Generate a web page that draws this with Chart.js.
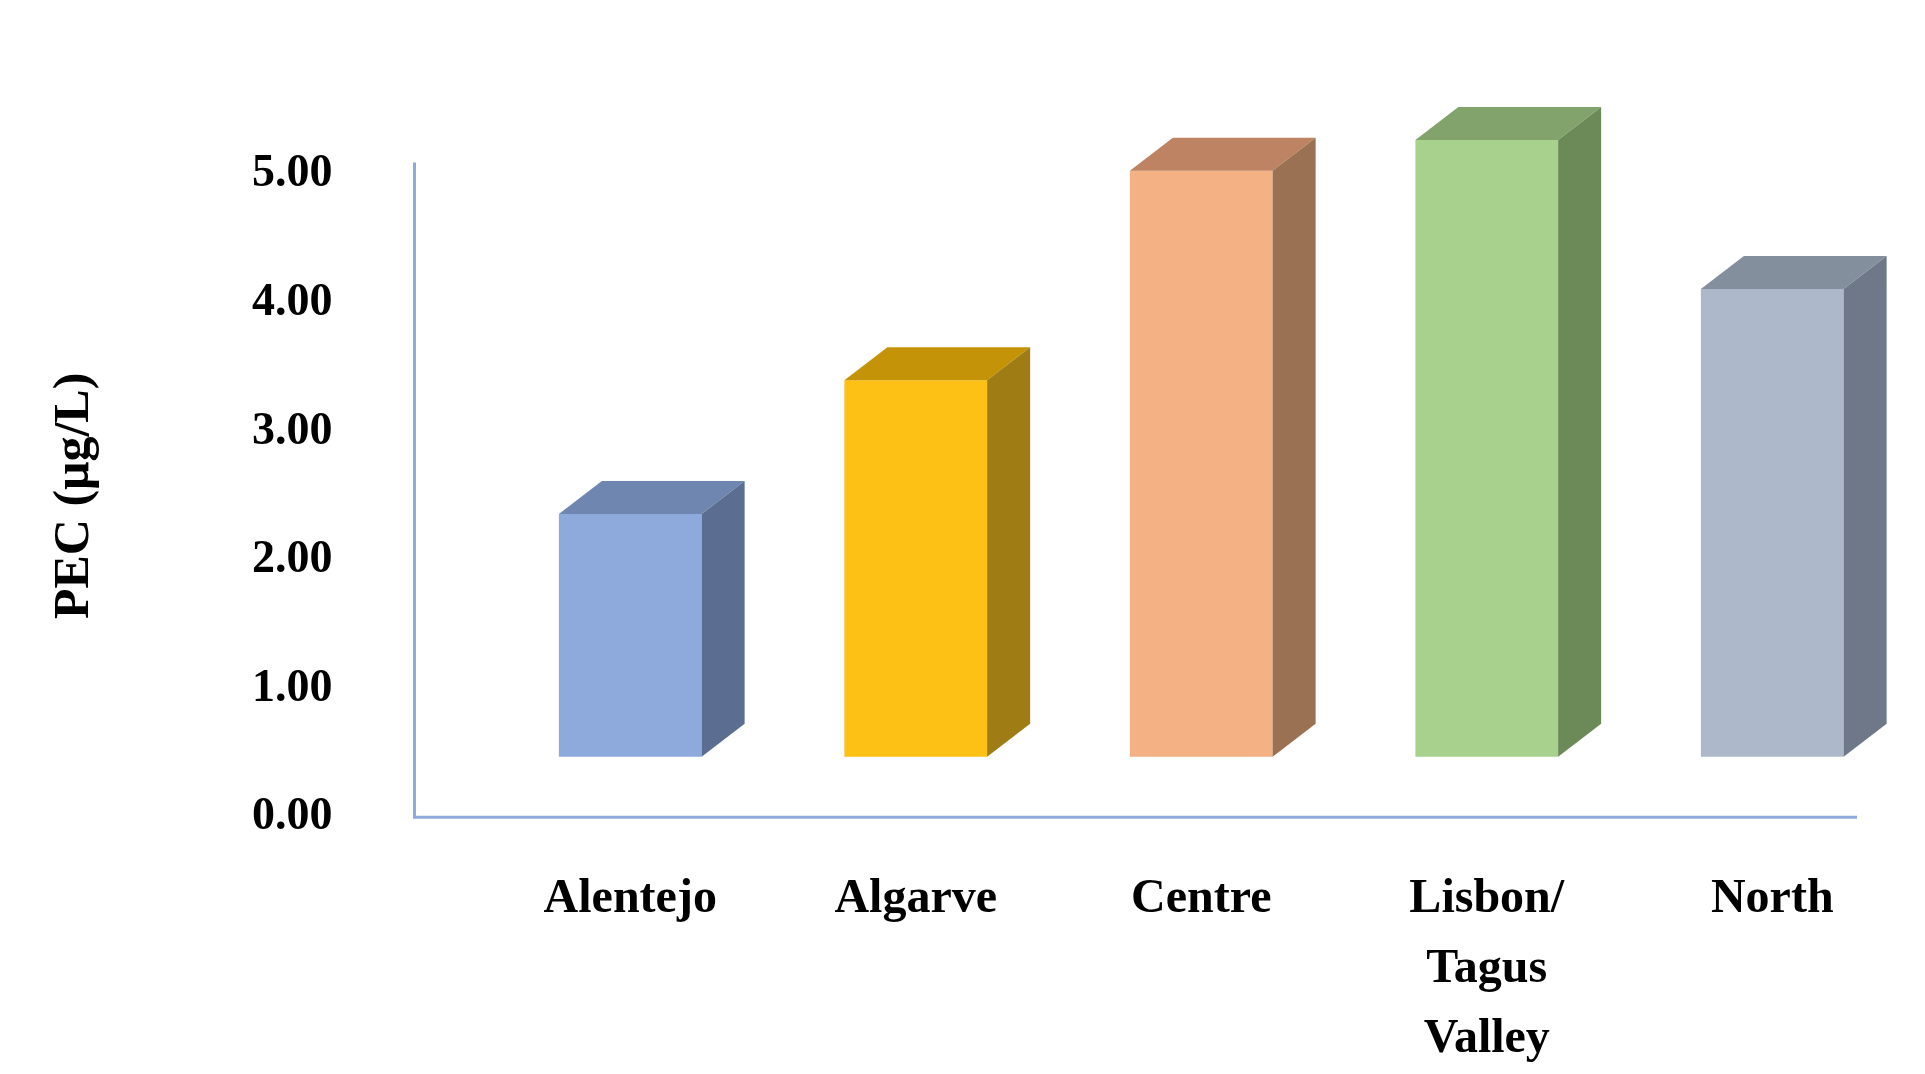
<!DOCTYPE html>
<html>
<head>
<meta charset="utf-8">
<script src="https://cdn.jsdelivr.net/npm/chart.js@4"></script>
<style>
  html, body { margin: 0; padding: 0; background: #fff; }
  #wrap { width: 1925px; height: 1074px; }
</style>
</head>
<body>
<div id="wrap"><canvas id="chart"></canvas></div>
<script>
(function () {
  'use strict';

  // Data
  const categories = ['Alentejo', 'Algarve', 'Centre', ['Lisbon/', 'Tagus', 'Valley'], 'North'];
  const pecValues = [2.36, 3.40, 5.03, 5.27, 4.11];
  const yTicks = [0, 1, 2, 3, 4, 5];

  // front / top / side shades for each bar
  const frontColors = ['#8eaadc', '#fdc115', '#f4b183', '#a9d18e', '#adb9ca'];
  const topColors = ['#6e86b0', '#c49307', '#bd8362', '#82a46c', '#848f9e'];
  const sideColors = ['#5b6d90', '#a07c14', '#9a7152', '#6b8a58', '#6f7888'];

  const FONT = 'Liberation Serif';
  const AXIS_COLOR = '#8faadc';
  const DEPTH_X = 43, DEPTH_Y = 33;

  // ── 3D faces + axis lines ──
  const boxPlugin = {
    id: 'box3d',
    afterDatasetsDraw: function (chart) {
      const ctx = chart.ctx;
      const meta = chart.getDatasetMeta(0);
      meta.data.forEach(function (bar, i) {
        const half = bar.width / 2;
        const l = bar.x - half, r = bar.x + half, t = bar.y, b = bar.base;
        ctx.save();
        ctx.fillStyle = topColors[i];
        ctx.beginPath();
        ctx.moveTo(l, t);
        ctx.lineTo(l + DEPTH_X, t - DEPTH_Y);
        ctx.lineTo(r + DEPTH_X, t - DEPTH_Y);
        ctx.lineTo(r, t);
        ctx.closePath();
        ctx.fill();
        ctx.fillStyle = sideColors[i];
        ctx.beginPath();
        ctx.moveTo(r, t);
        ctx.lineTo(r + DEPTH_X, t - DEPTH_Y);
        ctx.lineTo(r + DEPTH_X, b - DEPTH_Y);
        ctx.lineTo(r, b);
        ctx.closePath();
        ctx.fill();
        ctx.restore();
      });

      // axis lines sit left of / below the bars like the reference
      const y = chart.scales.y;
      const x0 = chart.chartArea.left - 73;
      const y0 = y.getPixelForValue(0);
      ctx.save();
      ctx.strokeStyle = AXIS_COLOR;
      ctx.lineWidth = 3;
      ctx.beginPath();
      ctx.moveTo(x0, y.getPixelForValue(5) - 12);
      ctx.lineTo(x0, y0);
      ctx.lineTo(chart.chartArea.right - 58, y0);
      ctx.stroke();
      ctx.restore();
    }
  };

  const ctx = document.getElementById('chart');

  new Chart(ctx, {
    type: 'bar',
    data: {
      labels: categories,
      datasets: [{
        data: pecValues,
        base: 0.47,
        clip: false,
        backgroundColor: frontColors,
        borderWidth: 0,
        barPercentage: 0.5,
        categoryPercentage: 1.0
      }]
    },
    options: {
      responsive: true,
      maintainAspectRatio: false,
      animation: false,
      layout: { padding: { left: 40, right: 10, top: 49, bottom: -40 } },
      plugins: {
        legend: { display: false },
        tooltip: { enabled: false }
      },
      scales: {
        x: {
          border: { display: false },
          grid: { display: false },
          ticks: {
            autoSkip: false,
            maxRotation: 0,
            padding: 40,
            color: '#000',
            font: { family: FONT, size: 48, weight: 'bold', lineHeight: 1.45 }
          }
        },
        y: {
          min: 0,
          max: 5,
          border: { display: false },
          grid: { display: false },
          afterBuildTicks: function (axis) {
            axis.ticks = yTicks.map(function (v) { return { value: v }; });
          },
          ticks: {
            padding: 147,
            color: '#000',
            font: { family: FONT, size: 46, weight: 'bold' },
            callback: function (v) { return Number(v).toFixed(2); }
          },
          title: {
            display: true,
            text: 'PEC (μg/L)',
            color: '#000',
            padding: { top: 5, bottom: 0 },
            font: { family: FONT, size: 50, weight: 'bold' }
          }
        }
      }
    },
    plugins: [boxPlugin]
  });

})();
</script>
</body>
</html>
